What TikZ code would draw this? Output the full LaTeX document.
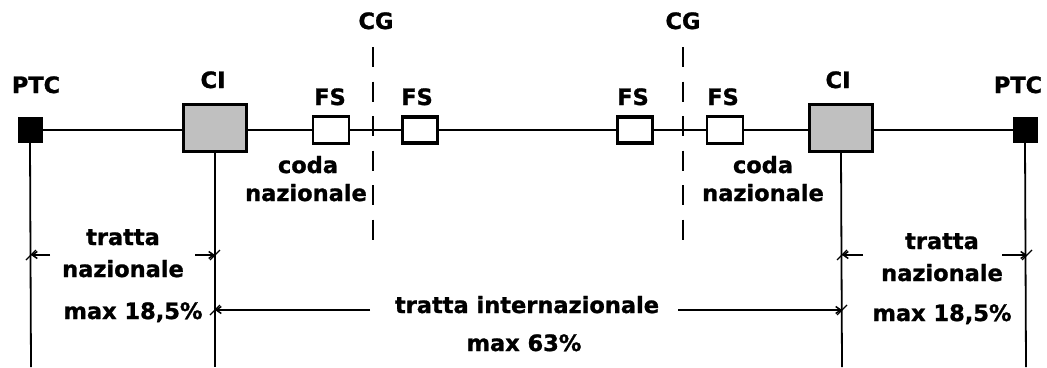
\documentclass[tikz,border=0pt]{standalone}
\usepackage{fontspec}
\setmainfont{DejaVu Sans}[BoldFeatures={FakeBold=1.2}]
\usetikzlibrary{arrows.meta}
\begin{document}
\begin{tikzpicture}[x=1pt,y=-1pt,
  lbl/.style={inner sep=0pt,anchor=base,font=\fontsize{22.5}{26}\selectfont\bfseries},
  ptcbox/.style={draw,fill=black,minimum width=24pt,minimum height=25pt,inner sep=0pt},
  cibox/.style={draw,line width=3.2pt,fill={rgb,255:red,192;green,192;blue,192},minimum width=63pt,minimum height=47pt,inner sep=0pt},
  fsthin/.style={draw,line width=2.4pt,fill=white,minimum width=36pt,minimum height=27pt,inner sep=0pt},
  fsthick/.style={draw,line width=3.6pt,fill=white,minimum width=35pt,minimum height=26pt,inner sep=0pt},
  wire/.style={line width=1.8pt},
  cgline/.style={line width=1.6pt,dash pattern=on 20pt off 14.5pt},
  dim/.style={line width=1.5pt,-{Straight Barb[length=5pt,width=7pt]}},
]
\useasboundingbox (0,0) rectangle (1047,367);

% main line
\draw[wire] (30,130) -- (1025,130);

\node[ptcbox] (ptcL) at (30,130) {};
\node[ptcbox] (ptcR) at (1025,130) {};
\node[cibox] (ciL) at (215,128) {};
\node[cibox] (ciR) at (841,128) {};
\node[fsthin] (fs1) at (331,130) {};
\node[fsthick] (fs2) at (420,130) {};
\node[fsthick] (fs3) at (635,130) {};
\node[fsthin] (fs4) at (725,130) {};

% bottom coordinates
\coordinate (bL1) at (31,367);
\coordinate (bL2) at (215,367);
\coordinate (bR1) at (842,367);
\coordinate (bR2) at (1026,367);
\draw[wire] (ptcL.south) -- (bL1);
\draw[wire] (ciL.south) -- (bL2);
\draw[wire] (ciR.south) -- (bR1);
\draw[wire] (ptcR.south) -- (bR2);

% CG dashed lines
\coordinate (cg1t) at (373,47);
\coordinate (cg1b) at (373,240);
\coordinate (cg2t) at (683,47);
\coordinate (cg2b) at (683,240);
\draw[cgline] (cg1t) -- (cg1b);
\draw[cgline] (cg2t) -- (cg2b);

% labels
\node[lbl] (tPTCL) at (36,93) {PTC};
\node[lbl] (tPTCR) at (1018,93) {PTC};
\node[lbl] (tCIL) at (213,88) {CI};
\node[lbl] (tCIR) at (838,88) {CI};
\node[lbl] (tFS1) at (330,105) {FS};
\node[lbl] (tFS2) at (417,105) {FS};
\node[lbl] (tFS3) at (633,105) {FS};
\node[lbl] (tFS4) at (723,105) {FS};
\node[lbl] (tCG1) at (376,29) {CG};
\node[lbl] (tCG2) at (683,29) {CG};

\node[lbl] (coda1) at (308,173) {coda};
\node[lbl] (naz1) at (306,201) {nazionale};
\node[lbl] (coda2) at (763,173) {coda};
\node[lbl] (naz2) at (763,201) {nazionale};

\node[lbl] (trL) at (123,245) {tratta};
\node[lbl] (nzL) at (123,277) {nazionale};
\node[lbl] (mxL) at (133,319) {max 18,5\%};

\node[lbl] (trR) at (942,249) {tratta};
\node[lbl] (nzR) at (942,281) {nazionale};
\node[lbl] (mxR) at (942,321) {max 18,5\%};

\node[lbl] (trI) at (527,313) {tratta internazionale};
\node[lbl] (mxI) at (524,351) {max 63\%};

% dimension lines
\coordinate (dLa) at (31,255);
\coordinate (dLb) at (215,255);
\coordinate (dLa2) at (50,255);
\coordinate (dLb2) at (195,255);
\draw[dim] (dLa2) -- (dLa);
\draw[dim] (dLb2) -- (dLb);

\coordinate (dRa) at (842,255);
\coordinate (dRb) at (1027,255);
\coordinate (dRa2) at (863,255);
\coordinate (dRb2) at (1002,255);
\draw[dim] (dRa2) -- (dRa);
\draw[dim] (dRb2) -- (dRb);

\coordinate (dIa) at (215,310);
\coordinate (dIb) at (842,310);
\coordinate (dIa2) at (370,310);
\coordinate (dIb2) at (678,310);
\draw[dim] (dIa2) -- (dIa);
\draw[dim] (dIb2) -- (dIb);

% tick slashes
\foreach \p in {dLa,dLb,dRa,dRb,dIa,dIb}
  \draw[line width=1.2pt] (\p) ++(-5,5) -- ++(10,-10);
\end{tikzpicture}
\end{document}
